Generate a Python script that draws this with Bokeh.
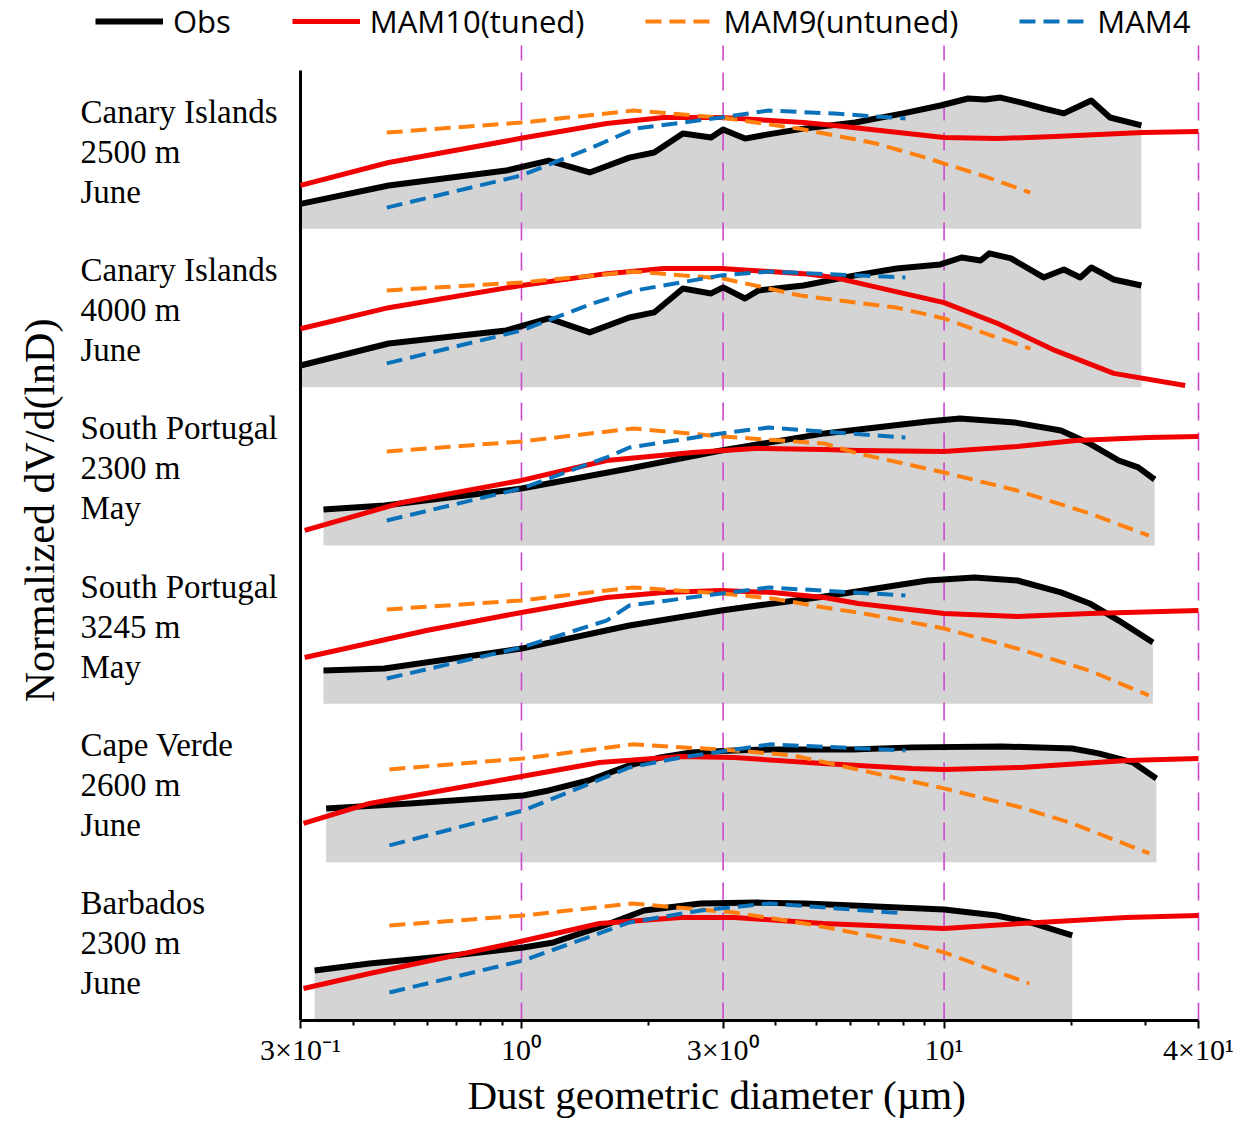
import math
from bokeh.plotting import figure
from bokeh.models import FixedTicker, Label, Legend, LegendItem, Title
from bokeh.embed import file_html
from bokeh.resources import INLINE

# ---------------- data (diameter in um, normalized dV/dlnD within each panel) -------------
panel_site = ["Canary Islands", "Canary Islands", "South Portugal", "South Portugal", "Cape Verde", "Barbados"]
panel_alt = ["2500 m", "4000 m", "2300 m", "3245 m", "2600 m", "2300 m"]
panel_month = ["June", "June", "May", "May", "June", "June"]

# Panel 1: Canary Islands 2500 m
obs_d_1 = [0.30, 0.485, 0.92, 1.16, 1.45, 1.80, 2.06, 2.41, 2.81, 3.00, 3.38, 3.80, 4.65, 6.16, 8.0, 9.8, 11.4, 12.5, 13.6, 15.6, 17.2, 19.2, 22.3, 24.7, 29.3]
obs_v_1 = [0.158, 0.274, 0.368, 0.431, 0.356, 0.450, 0.482, 0.602, 0.577, 0.627, 0.570, 0.595, 0.633, 0.672, 0.729, 0.779, 0.823, 0.817, 0.829, 0.791, 0.760, 0.729, 0.811, 0.703, 0.653]
mam10_d_1 = [0.30, 0.485, 0.99, 1.59, 2.17, 2.97, 4.65, 5.51, 10.0, 13.4, 18.3, 29.5, 40.0]
mam10_v_1 = [0.274, 0.419, 0.570, 0.665, 0.703, 0.703, 0.672, 0.653, 0.577, 0.570, 0.583, 0.608, 0.615]
mam9_d_1 = [0.48, 1.0, 1.84, 2.97, 4.6, 6.9, 9.0, 12.3, 16.0]
mam9_v_1 = [0.608, 0.671, 0.747, 0.703, 0.630, 0.539, 0.451, 0.337, 0.229]
mam4_d_1 = [0.48, 1.0, 1.47, 1.86, 2.97, 3.85, 5.51, 8.1]
mam4_v_1 = [0.134, 0.337, 0.514, 0.633, 0.703, 0.747, 0.728, 0.697]

# Panel 2: Canary Islands 4000 m
obs_d_2 = [0.30, 0.485, 0.92, 1.16, 1.45, 1.80, 2.06, 2.41, 2.81, 3.00, 3.38, 3.64, 4.65, 6.16, 7.72, 9.8, 11.0, 12.2, 12.8, 14.4, 17.2, 19.2, 21.0, 22.3, 25.2, 29.3]
obs_v_2 = [0.137, 0.276, 0.358, 0.434, 0.346, 0.440, 0.472, 0.623, 0.592, 0.630, 0.560, 0.611, 0.642, 0.706, 0.750, 0.775, 0.819, 0.800, 0.845, 0.813, 0.693, 0.743, 0.693, 0.756, 0.680, 0.642]
mam10_d_2 = [0.30, 0.485, 0.99, 1.59, 2.17, 2.97, 4.65, 5.51, 10.0, 13.4, 18.3, 25.2, 37.2]
mam10_v_2 = [0.369, 0.502, 0.641, 0.717, 0.749, 0.749, 0.717, 0.692, 0.534, 0.402, 0.232, 0.087, 0.01]
mam9_d_2 = [0.48, 1.0, 1.84, 3.0, 4.57, 7.7, 10.0, 12.9, 16.0]
mam9_v_2 = [0.611, 0.661, 0.730, 0.686, 0.579, 0.503, 0.434, 0.327, 0.244]
mam4_d_2 = [0.48, 1.0, 1.47, 1.86, 2.97, 3.85, 8.1]
mam4_v_2 = [0.150, 0.358, 0.528, 0.611, 0.706, 0.730, 0.693]

# Panel 3: South Portugal 2300 m
obs_d_3 = [0.34, 0.474, 1.0, 1.80, 2.97, 5.21, 9.14, 10.9, 14.7, 18.9, 22.1, 25.9, 28.8, 31.5]
obs_v_3 = [0.227, 0.253, 0.360, 0.486, 0.600, 0.708, 0.783, 0.802, 0.777, 0.726, 0.644, 0.537, 0.493, 0.417]
mam10_d_3 = [0.307, 0.523, 1.0, 1.59, 2.54, 3.57, 5.21, 6.26, 10.0, 14.9, 20.5, 30.5, 40.0]
mam10_v_3 = [0.095, 0.272, 0.411, 0.537, 0.587, 0.613, 0.606, 0.600, 0.594, 0.625, 0.663, 0.682, 0.689]
mam9_d_3 = [0.48, 1.0, 1.84, 2.97, 5.21, 6.26, 10.0, 14.9, 22.1, 30.5]
mam9_v_3 = [0.594, 0.657, 0.739, 0.689, 0.644, 0.581, 0.461, 0.347, 0.202, 0.063]
mam4_d_3 = [0.48, 1.0, 1.59, 1.80, 2.97, 3.85, 8.1]
mam4_v_3 = [0.158, 0.360, 0.556, 0.619, 0.708, 0.745, 0.682]

# Panel 4: South Portugal 3245 m
obs_d_4 = [0.34, 0.474, 1.0, 1.80, 2.97, 3.93, 5.21, 9.14, 11.8, 14.9, 18.9, 22.1, 25.9, 31.2]
obs_v_4 = [0.210, 0.223, 0.349, 0.495, 0.589, 0.634, 0.678, 0.779, 0.798, 0.779, 0.704, 0.634, 0.526, 0.387]
mam10_d_4 = [0.307, 0.596, 1.0, 1.59, 2.17, 2.97, 3.93, 5.21, 6.26, 10.0, 14.9, 22.1, 40.0]
mam10_v_4 = [0.293, 0.463, 0.577, 0.672, 0.703, 0.716, 0.703, 0.672, 0.634, 0.571, 0.552, 0.571, 0.590]
mam9_d_4 = [0.48, 1.0, 1.84, 2.97, 3.93, 5.21, 6.26, 10.0, 14.9, 22.1, 30.5]
mam9_v_4 = [0.596, 0.653, 0.735, 0.697, 0.665, 0.608, 0.577, 0.476, 0.349, 0.210, 0.053]
mam4_d_4 = [0.48, 1.0, 1.59, 1.80, 2.97, 3.85, 8.1]
mam4_v_4 = [0.160, 0.356, 0.526, 0.621, 0.697, 0.735, 0.684]

# Panel 5: Cape Verde 2600 m
obs_d_5 = [0.345, 0.545, 1.01, 1.16, 1.44, 1.80, 2.13, 2.52, 3.19, 3.87, 6.09, 8.4, 13.7, 20.1, 23.2, 28.0, 31.8]
obs_v_5 = [0.339, 0.371, 0.421, 0.453, 0.516, 0.611, 0.661, 0.693, 0.706, 0.712, 0.712, 0.725, 0.731, 0.718, 0.687, 0.630, 0.529]
mam10_d_5 = [0.305, 0.437, 0.97, 1.53, 2.38, 3.19, 5.17, 8.4, 10.0, 15.2, 27.0, 40.0]
mam10_v_5 = [0.245, 0.371, 0.535, 0.630, 0.668, 0.661, 0.623, 0.592, 0.586, 0.598, 0.642, 0.655]
mam9_d_5 = [0.487, 1.01, 1.83, 3.19, 4.4, 10.0, 15.2, 20.1, 30.6]
mam9_v_5 = [0.586, 0.655, 0.744, 0.706, 0.674, 0.466, 0.346, 0.245, 0.055]
mam4_d_5 = [0.487, 1.01, 1.80, 2.38, 3.87, 8.1]
mam4_v_5 = [0.106, 0.327, 0.598, 0.661, 0.744, 0.706]

# Panel 6: Barbados 2300 m
obs_d_6 = [0.324, 0.437, 0.69, 1.01, 1.19, 1.57, 1.95, 2.65, 3.6, 4.68, 6.09, 10.0, 13.3, 16.0, 20.1]
obs_v_6 = [0.316, 0.360, 0.411, 0.461, 0.493, 0.600, 0.695, 0.739, 0.745, 0.739, 0.726, 0.701, 0.663, 0.619, 0.537]
mam10_d_6 = [0.305, 0.437, 0.97, 1.53, 2.38, 3.19, 5.17, 10.0, 15.2, 27.0, 40.0]
mam10_v_6 = [0.202, 0.297, 0.493, 0.613, 0.651, 0.651, 0.613, 0.581, 0.613, 0.651, 0.663]
mam9_d_6 = [0.487, 1.01, 1.83, 3.19, 4.68, 8.4, 10.0, 15.9]
mam9_v_6 = [0.600, 0.663, 0.739, 0.682, 0.613, 0.486, 0.430, 0.234]
mam4_d_6 = [0.487, 1.01, 1.80, 2.65, 3.87, 8.1]
mam4_v_6 = [0.177, 0.379, 0.619, 0.695, 0.739, 0.676]

d_min, d_max = 0.3, 40
major_ticks = [0.3, 1, 3, 10, 40]
major_labels = ["3×10⁻¹", "10⁰", "3×10⁰", "10¹", "4×10¹"]
minor_ticks = [0.4, 0.5, 0.6, 0.7, 0.8, 0.9, 2, 4, 5, 6, 7, 8, 9, 20, 30]
guide_d = [1, 3, 10, 40]
series_names = ["Obs", "MAM10(tuned)", "MAM9(untuned)", "MAM4"]

obs_d = [obs_d_1, obs_d_2, obs_d_3, obs_d_4, obs_d_5, obs_d_6]
obs_v = [obs_v_1, obs_v_2, obs_v_3, obs_v_4, obs_v_5, obs_v_6]
m10_d = [mam10_d_1, mam10_d_2, mam10_d_3, mam10_d_4, mam10_d_5, mam10_d_6]
m10_v = [mam10_v_1, mam10_v_2, mam10_v_3, mam10_v_4, mam10_v_5, mam10_v_6]
m9_d = [mam9_d_1, mam9_d_2, mam9_d_3, mam9_d_4, mam9_d_5, mam9_d_6]
m9_v = [mam9_v_1, mam9_v_2, mam9_v_3, mam9_v_4, mam9_v_5, mam9_v_6]
m4_d = [mam4_d_1, mam4_d_2, mam4_d_3, mam4_d_4, mam4_d_5, mam4_d_6]
m4_v = [mam4_v_1, mam4_v_2, mam4_v_3, mam4_v_4, mam4_v_5, mam4_v_6]

# ---------------- styles / layout -------------
GRAY = "#d4d4d4"
RED = "#f00000"
ORANGE = "#ff800e"
BLUE = "#0a72ba"
GUIDE = "#cc48cc"
SERIF = "Liberation Serif"
NP = 6

W, H = 1248, 1122
FRAME_L, AXIS_X, AXIS_R, FRAME_R = 62, 300, 1198, 1204   # canvas px
PANEL_TOP = 70          # px from canvas top where the first panel starts (space above holds the legend)
BOTTOM = 102            # px below the panels for the x axis
GUIDE_TOP = 45          # px: dashed guides start a bit above the first panel

dec_per_px = math.log10(d_max / d_min) / (AXIS_R - AXIS_X)
x_start = d_min / 10 ** ((AXIS_X - FRAME_L) * dec_per_px)
x_end = d_max * 10 ** ((FRAME_R - AXIS_R) * dec_per_px)
frame_h = H - BOTTOM
panel_px = (frame_h - PANEL_TOP) / NP
y_end = frame_h / panel_px
guide_top = (frame_h - GUIDE_TOP) / panel_px

p = figure(width=W, height=H, x_axis_type="log", x_range=(x_start, x_end), y_range=(0, y_end),
           output_backend="svg", toolbar_location=None,
           min_border_left=FRAME_L, min_border_right=W - FRAME_R, min_border_top=0, min_border_bottom=BOTTOM)
p.outline_line_color = None
p.grid.visible = False
p.background_fill_color = "white"

# gray obs areas
for i in range(NP):
    base = NP - 1 - i
    p.varea(x=obs_d[i], y1=[base] * len(obs_d[i]), y2=[base + v for v in obs_v[i]],
            fill_color=GRAY, fill_alpha=1.0)

# vertical guide lines
p.segment(x0=guide_d, y0=[0] * len(guide_d), x1=guide_d, y1=[guide_top] * len(guide_d),
          line_color=GUIDE, line_width=1.6, line_dash="18 12")

# left axis line at D = 0.3 spanning the panels
p.segment(x0=[d_min], y0=[0], x1=[d_min], y1=[NP], line_color="black", line_width=3)

legend_r = []
for i in range(NP):
    base = NP - 1 - i
    r0 = p.line(obs_d[i], [base + v for v in obs_v[i]], line_color="black", line_width=6, line_join="round")
    r1 = p.line(m10_d[i], [base + v for v in m10_v[i]], line_color=RED, line_width=5, line_join="round")
    r2 = p.line(m9_d[i], [base + v for v in m9_v[i]], line_color=ORANGE, line_width=4, line_dash="16 8")
    r3 = p.line(m4_d[i], [base + v for v in m4_v[i]], line_color=BLUE, line_width=4, line_dash="16 8")
    if i == 0:
        legend_r = [r0, r1, r2, r3]

    for j, txt in enumerate([panel_site[i], panel_alt[i], panel_month[i]]):
        p.add_layout(Label(x=d_min, y=base + 1, x_offset=-220, y_offset=-(41 + 40 * j),
                           text=txt, text_font=SERIF, text_font_size="33px",
                           text_baseline="middle", text_align="left", text_color="black"))

legend = Legend(items=[LegendItem(label=n, renderers=[r]) for n, r in zip(series_names, legend_r)],
                orientation="horizontal", location=(95 - FRAME_L, frame_h - 42),
                glyph_width=68, glyph_height=30, label_height=30, label_standoff=10, spacing=61,
                padding=0, margin=0, background_fill_alpha=0, border_line_alpha=0,
                label_text_font="Open Sans", label_text_font_size="31px", label_text_color="black")
p.add_layout(legend)

# axes
xa = p.xaxis[0]
xa.bounds = (d_min, d_max)
xa.ticker = FixedTicker(ticks=major_ticks, minor_ticks=minor_ticks)
xa.major_label_overrides = {float(t): l for t, l in zip(major_ticks, major_labels)}
xa.major_label_text_font = SERIF
xa.major_label_text_font_size = "30px"
xa.major_label_text_color = "black"
xa.major_label_standoff = 4
xa.axis_line_width = 3
xa.axis_line_color = "black"
xa.major_tick_line_color = "black"
xa.minor_tick_line_color = "black"
xa.major_tick_line_width = 2
xa.minor_tick_line_width = 2
xa.major_tick_out = 8
xa.major_tick_in = 0
xa.minor_tick_out = 5
xa.minor_tick_in = 0

# x axis title, left-aligned so it is centred under the log axis span
p.add_layout(Title(text="Dust geometric diameter (µm)", align="left", offset=467 - FRAME_L,
                   text_font=SERIF, text_font_size="41px", text_font_style="normal",
                   text_color="black", standoff=2), "below")

ya = p.yaxis[0]
ya.ticker = FixedTicker(ticks=[])
ya.major_label_text_font_size = "0px"
ya.major_tick_line_color = None
ya.minor_tick_line_color = None
ya.axis_line_color = None
ya.axis_label = "Normalized dV/d(lnD)"
ya.axis_label_text_font = SERIF
ya.axis_label_text_font_size = "42px"
ya.axis_label_text_font_style = "normal"
ya.axis_label_text_color = "black"
ya.axis_label_standoff = 0

open("out.html", "w").write(file_html(p, INLINE))
